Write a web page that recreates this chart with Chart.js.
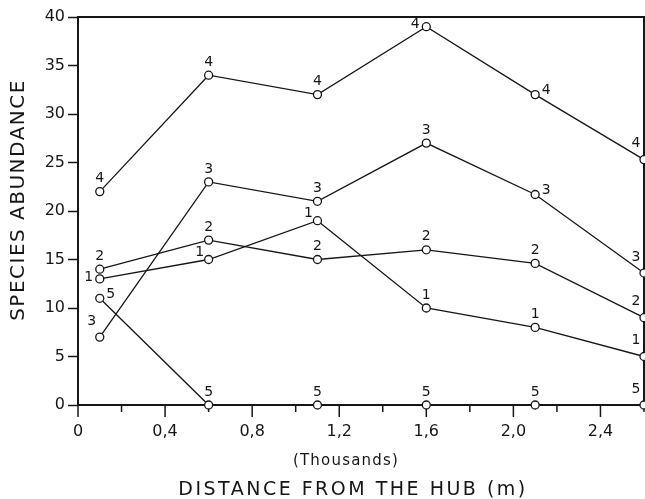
<!DOCTYPE html>
<html>
<head>
<meta charset="utf-8">
<script src="https://cdn.jsdelivr.net/npm/chart.js@4"></script>
<style>
  html, body { margin: 0; padding: 0; background: #fff; }
  #chart { display: block; }
</style>
</head>
<body>
<canvas id="chart" width="645" height="499"></canvas>
<script>
// distances (thousands of m) where the samples were taken
const distances = [0.1, 0.6, 1.1, 1.6, 2.1, 2.6];

// species abundance, one array per numbered curve
const species1 = [13, 15, 19, 10, 8, 5];
const species2 = [14, 17, 15, 16, 14.6, 9];
const species3 = [7, 23, 21, 27, 21.7, 13.6];
const species4 = [22, 34, 32, 39, 32, 25.3];
const species5 = [11, 0, 0, 0, 0, 0];

const seriesNames = ['1', '2', '3', '4', '5'];
const seriesValues = [species1, species2, species3, species4, species5];

const yTickLabels = ['0', '5', '10', '15', '20', '25', '30', '35', '40'];
const xTickLabels = ['0', '0,4', '0,8', '1,2', '1,6', '2,0', '2,4'];

// where the little curve number sits next to each point
const labelSpots = {
    '1': ['left', 'leftUp', 'leftUp', 'up', 'up', 'upLeft'],
    '2': ['up', 'up', 'up', 'up', 'up', 'upLeft'],
    '3': ['upLeft', 'up', 'up', 'up', 'right', 'upLeft'],
    '4': ['up', 'up', 'up', 'left', 'right', 'upLeft'],
    '5': ['right', 'up', 'up', 'up', 'up', 'upLeft']
};
const spotOffset = {
    up: [0, -13],
    upLeft: [-8, -16],
    left: [-11, -2],
    leftUp: [-9, -7],
    right: [11, -4]
};

const INK = '#161616';
const FONT = '"DejaVu Sans", sans-serif';

const datasets = seriesNames.map((name, s) => ({
    label: name,
    data: distances.map((d, i) => ({ x: d, y: seriesValues[s][i] })),
    borderColor: INK,
    borderWidth: 1.3,
    pointRadius: 4,
    pointBorderWidth: 1.3,
    pointBackgroundColor: '#fff',
    pointBorderColor: INK,
    tension: 0,
    fill: false,
    clip: false
}));

const drawExtras = {
    id: 'drawExtras',
    beforeDatasetsDraw(chart) {
        const { ctx, chartArea: a, scales } = chart;
        ctx.save();
        ctx.strokeStyle = INK;
        ctx.lineWidth = 2;
        ctx.strokeRect(a.left, a.top, a.right - a.left, a.bottom - a.top);

        // x tick marks: long at labelled ticks, short between
        ctx.lineWidth = 1.5;
        scales.x.ticks.forEach(t => {
            const px = scales.x.getPixelForValue(t.value);
            const major = Math.abs(t.value / 0.4 - Math.round(t.value / 0.4)) < 1e-6;
            ctx.beginPath();
            ctx.moveTo(px, a.bottom);
            ctx.lineTo(px, a.bottom + (major ? 12 : 7));
            ctx.stroke();
        });
        ctx.restore();
    },
    afterDatasetsDraw(chart) {
        const { ctx } = chart;
        ctx.save();
        ctx.fillStyle = INK;

        // curve numbers beside the points
        ctx.font = '14px ' + FONT;
        ctx.textAlign = 'center';
        ctx.textBaseline = 'middle';
        chart.data.datasets.forEach((ds, s) => {
            const meta = chart.getDatasetMeta(s);
            meta.data.forEach((pt, i) => {
                const off = spotOffset[labelSpots[ds.label][i]];
                ctx.fillText(ds.label, pt.x + off[0], pt.y + off[1]);
            });
        });

        // axis titles
        ctx.font = '15px ' + FONT;
        ctx.letterSpacing = '1.2px';
        ctx.fillText('(Thousands)', 346, 461);
        ctx.font = '19px ' + FONT;
        ctx.letterSpacing = '2.5px';
        ctx.fillText('DISTANCE FROM THE HUB (m)', 353, 490);

        ctx.translate(19, 200);
        ctx.rotate(-Math.PI / 2);
        ctx.font = '20px ' + FONT;
        ctx.letterSpacing = '1.5px';
        ctx.fillText('SPECIES ABUNDANCE', 0, 0);
        ctx.restore();
    }
};

new Chart(document.getElementById('chart'), {
    type: 'line',
    data: { datasets },
    options: {
        responsive: false,
        animation: false,
        devicePixelRatio: 1,
        layout: { autoPadding: false, padding: { top: 17, right: 1, left: 0, bottom: 0 } },
        plugins: {
            legend: { display: false },
            tooltip: { enabled: false }
        },
        scales: {
            x: {
                type: 'linear',
                min: 0,
                max: 2.6,
                afterFit: scale => {
                    scale.height = 94;
                    scale.paddingLeft = 0;
                    scale.paddingRight = 0;
                },
                grid: { display: false },
                border: { display: false },
                ticks: {
                    stepSize: 0.2,
                    autoSkip: false,
                    maxRotation: 0,
                    padding: 9,
                    color: INK,
                    font: { family: FONT, size: 16 },
                    callback: v => {
                        const k = v / 0.4;
                        if (Math.abs(k - Math.round(k)) > 1e-6) return '';
                        return xTickLabels[Math.round(k)];
                    }
                }
            },
            y: {
                min: 0,
                max: 40,
                afterFit: scale => { scale.width = 78; },
                grid: {
                    drawOnChartArea: false,
                    drawTicks: true,
                    tickLength: 10,
                    tickColor: INK,
                    tickWidth: 1.5
                },
                border: { display: false },
                ticks: {
                    stepSize: 5,
                    padding: 3,
                    color: INK,
                    font: { family: FONT, size: 16 },
                    callback: v => yTickLabels[Math.round(v / 5)]
                }
            }
        }
    },
    plugins: [drawExtras]
});
</script>
</body>
</html>
